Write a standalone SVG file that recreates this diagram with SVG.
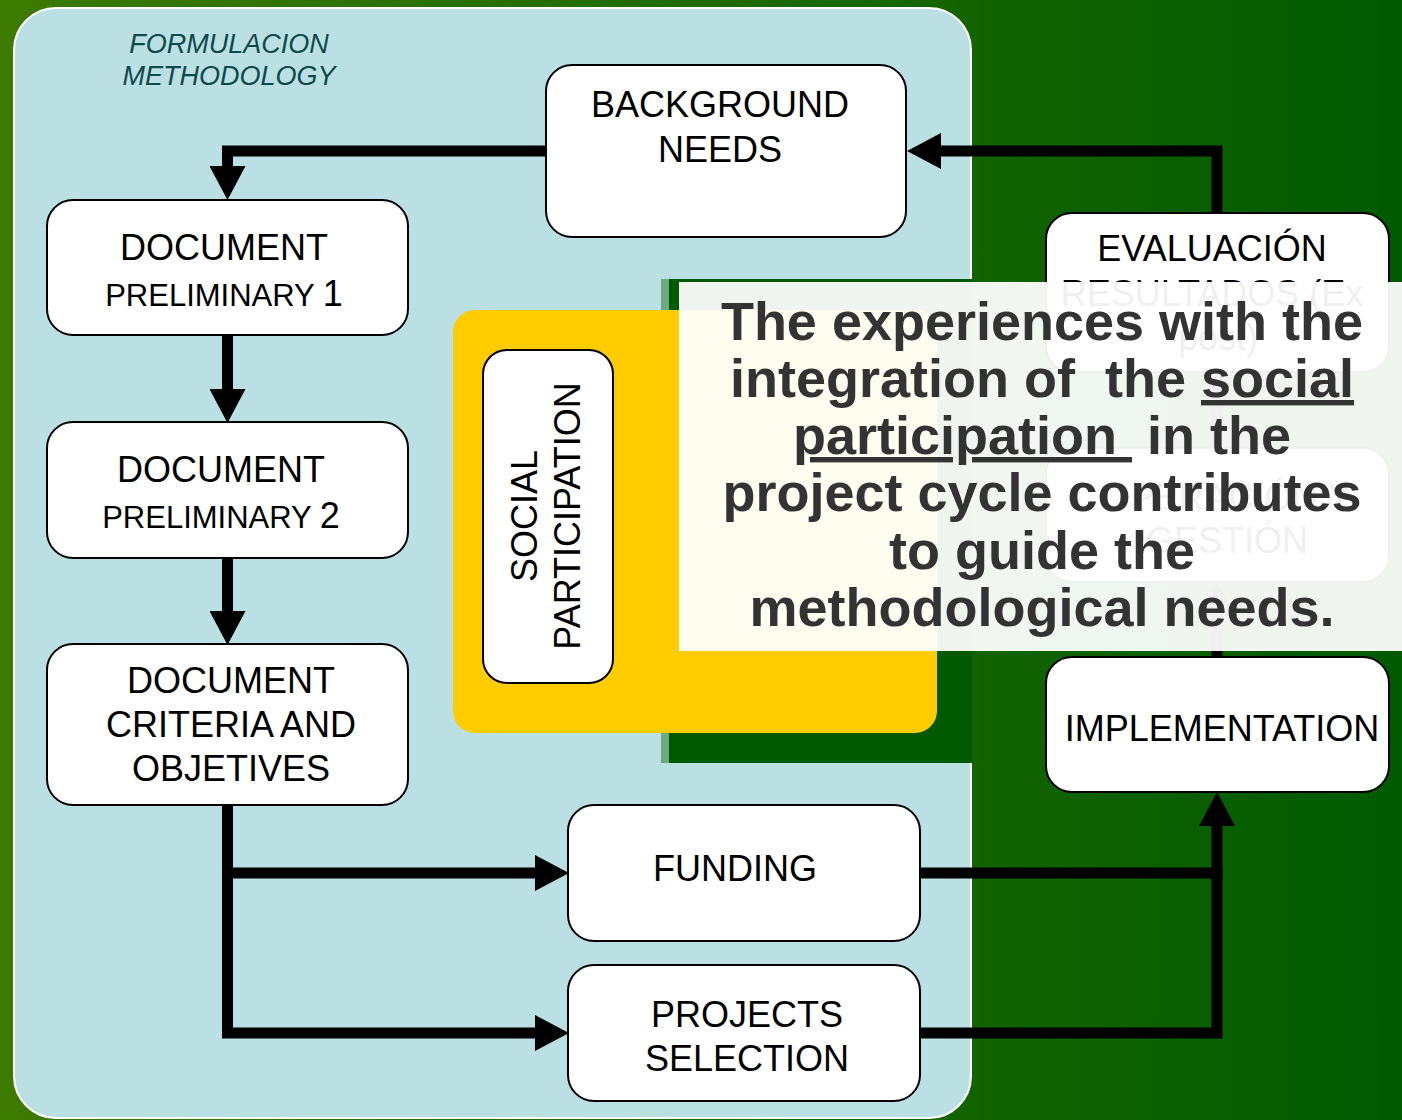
<svg xmlns="http://www.w3.org/2000/svg" width="1402" height="1120" viewBox="0 0 1402 1120">
<defs>
<linearGradient id="bg" x1="0" y1="0" x2="1" y2="0">
<stop offset="0" stop-color="#3d7a00"/>
<stop offset="1" stop-color="#005a00"/>
</linearGradient>
<marker id="ah" markerUnits="userSpaceOnUse" viewBox="0 0 34 36" refX="0" refY="18" markerWidth="34" markerHeight="36" orient="auto">
<path d="M0,0 L34,18 L0,36 Z" fill="#000"/>
</marker>
<style>
.node{fill:#fff;stroke:#000;stroke-width:2}
.lbl{font-family:"Liberation Sans",Arial,sans-serif;font-size:36px;fill:#000;text-anchor:middle}
.sm{font-size:31px}
.edge{fill:none;stroke:#000;stroke-width:11;stroke-linejoin:miter;stroke-linecap:butt}
.arr{marker-end:url(#ah)}
.call{font-family:"Liberation Sans",Arial,sans-serif;font-size:54px;font-weight:bold;fill:#333;text-anchor:middle}
</style>
</defs>
<rect x="0" y="0" width="1402" height="1120" fill="url(#bg)"/>
<rect id="container" x="14" y="8" width="957" height="1110" rx="42" fill="#bbe0e3" stroke="#fff" stroke-width="2"/>
<text x="229" y="53" font-family="Liberation Sans,Arial,sans-serif" font-size="27" font-style="italic" fill="#0f4a4a" text-anchor="middle">FORMULACION</text>
<text x="229" y="85" font-family="Liberation Sans,Arial,sans-serif" font-size="27" font-style="italic" fill="#0f4a4a" text-anchor="middle">METHODOLOGY</text>
<rect x="661" y="279" width="8" height="484" fill="#6fa883"/>
<rect x="669" y="279" width="303" height="484" fill="#005a00"/>
<rect id="social-area" x="453" y="310" width="484" height="423" rx="22" fill="#ffcc00"/>

<g id="connectors">
<path class="edge arr" d="M546,151 H227.5 V166"/>
<path class="edge arr" d="M227.5,335 V389"/>
<path class="edge arr" d="M227.5,558 V611"/>
<path class="edge arr" d="M227.5,805 V873 H535"/>
<path class="edge arr" d="M227.5,868 V1033 H535"/>
<path class="edge arr" d="M920,873 H1217 V826"/>
<path class="edge" d="M920,1033 H1217 V868"/>
<path class="edge arr" d="M1217,657 V615"/>
<path class="edge arr" d="M1217,448 V406"/>
<path class="edge arr" d="M1217,213 V151 H941"/>
</g>

<g id="n-background">
<rect class="node" x="546" y="65" width="360" height="172" rx="26"/>
<text class="lbl" x="720" y="117">BACKGROUND</text>
<text class="lbl" x="720" y="162">NEEDS</text>
</g>
<g id="n-doc1">
<rect class="node" x="47" y="200" width="361" height="135" rx="26"/>
<text class="lbl" x="224" y="260">DOCUMENT</text>
<text class="lbl" x="224" y="306"><tspan class="sm">PRELIMINARY </tspan>1</text>
</g>
<g id="n-doc2">
<rect class="node" x="47" y="422" width="361" height="136" rx="26"/>
<text class="lbl" x="221" y="482">DOCUMENT</text>
<text class="lbl" x="221" y="528"><tspan class="sm">PRELIMINARY </tspan>2</text>
</g>
<g id="n-doc3">
<rect class="node" x="47" y="644" width="361" height="161" rx="26"/>
<text class="lbl" x="231" y="693">DOCUMENT</text>
<text class="lbl" x="231" y="737">CRITERIA AND</text>
<text class="lbl" x="231" y="781">OBJETIVES</text>
</g>
<g id="n-social">
<rect class="node" x="483" y="350" width="130" height="333" rx="24"/>
<text class="lbl" transform="translate(537,516) rotate(-90)">SOCIAL</text>
<text class="lbl" transform="translate(580,516) rotate(-90)">PARTICIPATION</text>
</g>
<g id="n-funding">
<rect class="node" x="568" y="805" width="352" height="136" rx="26"/>
<text class="lbl" x="735" y="881">FUNDING</text>
</g>
<g id="n-projects">
<rect class="node" x="568" y="965" width="352" height="136" rx="26"/>
<text class="lbl" x="747" y="1027">PROJECTS</text>
<text class="lbl" x="747" y="1071">SELECTION</text>
</g>
<g id="n-implementation">
<rect class="node" x="1046" y="657" width="343" height="135" rx="26"/>
<text class="lbl" x="1222" y="741">IMPLEMENTATION</text>
</g>
<g id="n-operacion">
<rect class="node" x="1046" y="448" width="343" height="134" rx="26"/>
<text class="lbl" x="1227" y="510">OPERACIÓN Y</text>
<text class="lbl" x="1227" y="553">GESTIÓN</text>
</g>
<g id="n-evaluacion">
<rect class="node" x="1046" y="213" width="343" height="159" rx="26"/>
<text class="lbl" x="1212" y="261">EVALUACIÓN</text>
<text class="lbl" x="1212" y="306">RESULTADOS (Ex</text>
<text class="lbl" x="1212" y="350">-post)</text>
</g>

<g id="callout">
<rect x="679" y="282" width="723" height="369" fill="#fff" fill-opacity="0.94"/>
<text class="call" x="1042" y="340">The experiences with the</text>
<text class="call" x="1042" y="397" xml:space="preserve">integration of  the <tspan text-decoration="underline">social</tspan></text>
<text class="call" x="1042" y="454" xml:space="preserve"><tspan text-decoration="underline">participation </tspan> in the</text>
<text class="call" x="1042" y="511">project cycle contributes</text>
<text class="call" x="1042" y="569">to guide the</text>
<text class="call" x="1042" y="626">methodological needs.</text>
</g>
</svg>
